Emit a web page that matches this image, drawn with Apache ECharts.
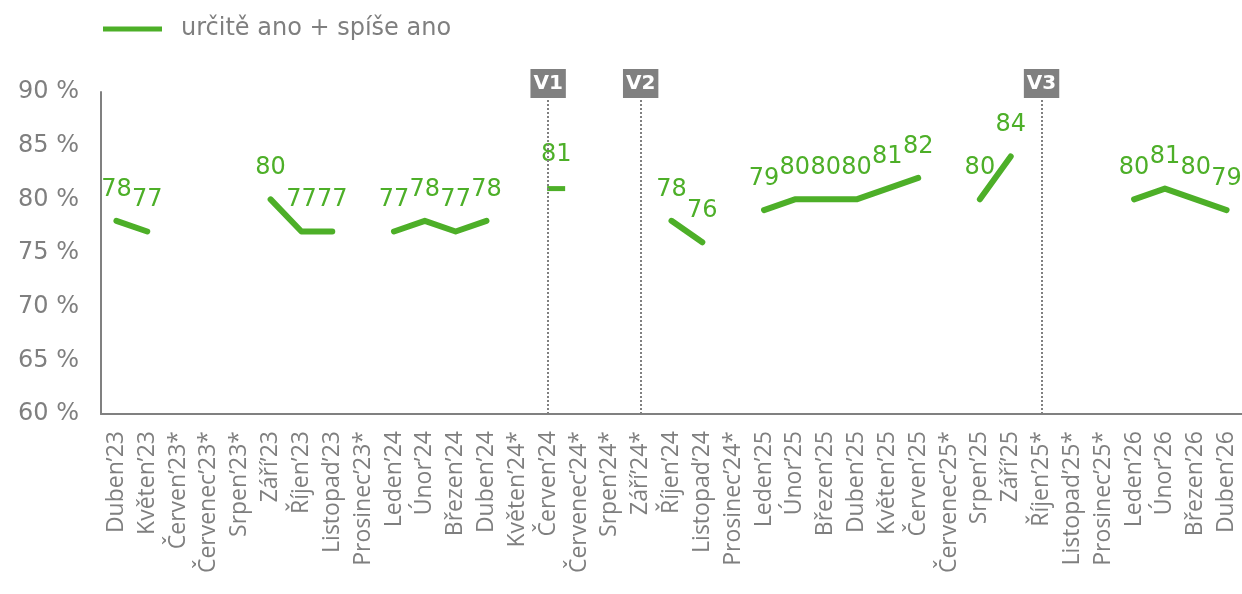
<!DOCTYPE html>
<html>
<head>
<meta charset="utf-8">
<script src="https://cdn.jsdelivr.net/npm/echarts@6/dist/echarts.min.js"></script>
<style>
	html, body { margin: 0; padding: 0; background: #fff; }
	#main { width: 1242px; height: 594px; }
</style>
</head>
<body>
<div id="main"></div>
<script>
	// mesice (osa X)
	var categories = [
		'Duben’23', 'Květen’23', 'Červen’23*', 'Červenec’23*', 'Srpen’23*', 'Září’23', 'Říjen’23',
		'Listopad’23', 'Prosinec’23*', 'Leden’24', 'Únor’24', 'Březen’24', 'Duben’24', 'Květen’24*',
		'Červen’24', 'Červenec’24*', 'Srpen’24*', 'Září’24*', 'Říjen’24', 'Listopad’24', 'Prosinec’24*',
		'Leden’25', 'Únor’25', 'Březen’25', 'Duben’25', 'Květen’25', 'Červen’25', 'Červenec’25*',
		'Srpen’25', 'Září’25', 'Říjen’25*', 'Listopad’25*', 'Prosinec’25*', 'Leden’26', 'Únor’26',
		'Březen’26', 'Duben’26'
	];
	// určitě ano + spíše ano (null = bez mereni)
	var values = [
		78, 77, null, null, null, 80, 77,
		77, null, 77, 78, 77, 78, null,
		81, null, null, null, 78, 76, null,
		79, 80, 80, 80, 81, 82, null,
		80, 84, null, null, null, 80, 81,
		80, 79
	];
	var seriesName = 'určitě ano + spíše ano';
	// svisle znacky vln
	var waveMarks = [
		{ at: 'Červen’24', label: 'V1' },
		{ at: 'Září’24*', label: 'V2' },
		{ at: 'Říjen’25*', label: 'V3' }
	];
	var yTicks = { min: 60, max: 90, step: 5 };

	var green = '#4daf28';
	var grey = '#7f7f7f';

	var myChart = echarts.init(document.getElementById('main'));

	// osamely bod (bez sousedu) se kresli jako kratka carka
	function buildData() {
		var arr = [];
		for (var i = 0; i < values.length; i++) {
			var v = values[i];
			var prev = i > 0 ? values[i - 1] : null;
			var next = i < values.length - 1 ? values[i + 1] : null;
			if (v != null && prev == null && next == null) {
				arr.push({
					value: v,
					symbol: 'rect',
					symbolSize: [18, 5],
					symbolOffset: [8, 0]
				});
			} else {
				arr.push(v);
			}
		}
		return arr;
	}

	var option = {
		animation: false,
		textStyle: { fontFamily: 'DejaVu Sans' },
		legend: {
			left: 98,
			top: 12,
			icon: 'rect',
			itemWidth: 59,
			itemHeight: 5,
			data: [seriesName],
			textStyle: {
				color: grey,
				fontSize: 24,
				fontFamily: 'DejaVu Sans',
				padding: [0, 0, 0, 14]
			}
		},
		grid: {
			left: 101,
			top: 92,
			width: 1146,
			bottom: 180
		},
		xAxis: {
			type: 'category',
			data: categories,
			axisLine: { lineStyle: { color: '#808080', width: 2 } },
			axisTick: { show: false },
			axisLabel: {
				interval: 0,
				rotate: 90,
				margin: 17,
				color: grey,
				fontSize: 23,
				fontFamily: 'Open Sans'
			}
		},
		yAxis: {
			type: 'value',
			min: yTicks.min,
			max: yTicks.max,
			interval: yTicks.step,
			axisLine: { show: true, lineStyle: { color: '#808080', width: 2 } },
			axisTick: { show: false },
			splitLine: { show: false },
			axisLabel: {
				margin: 22,
				color: grey,
				fontSize: 24,
				fontFamily: 'DejaVu Sans',
				formatter: '{value} %'
			}
		},
		series: [{
			name: seriesName,
			type: 'line',
			connectNulls: false,
			symbol: 'circle',
			symbolSize: 1,
			showSymbol: true,
			color: green,
			itemStyle: { color: green },
			lineStyle: { color: green, width: 6, cap: 'round', join: 'round' },
			label: {
				show: true,
				position: 'top',
				distance: 19,
				color: green,
				fontSize: 24,
				fontFamily: 'DejaVu Sans'
			},
			data: buildData(),
			markLine: {
				silent: true,
				symbol: 'none',
				lineStyle: { color: '#808080', type: 'dotted', width: 2 },
				label: {
					show: true,
					position: 'end',
					distance: -6,
					color: '#fff',
					fontWeight: 'bold',
					fontSize: 20,
					lineHeight: 22,
					fontFamily: 'DejaVu Sans',
					backgroundColor: '#808080',
					padding: [4, 3, 3, 3],
					formatter: function(p) { return p.name; }
				},
				data: (function() {
					var a = [];
					for (var i = 0; i < waveMarks.length; i++) {
						a.push({ name: waveMarks[i].label, xAxis: waveMarks[i].at });
					}
					return a;
				})()
			}
		}]
	};
	myChart.setOption(option, true);
</script>
</body>
</html>
